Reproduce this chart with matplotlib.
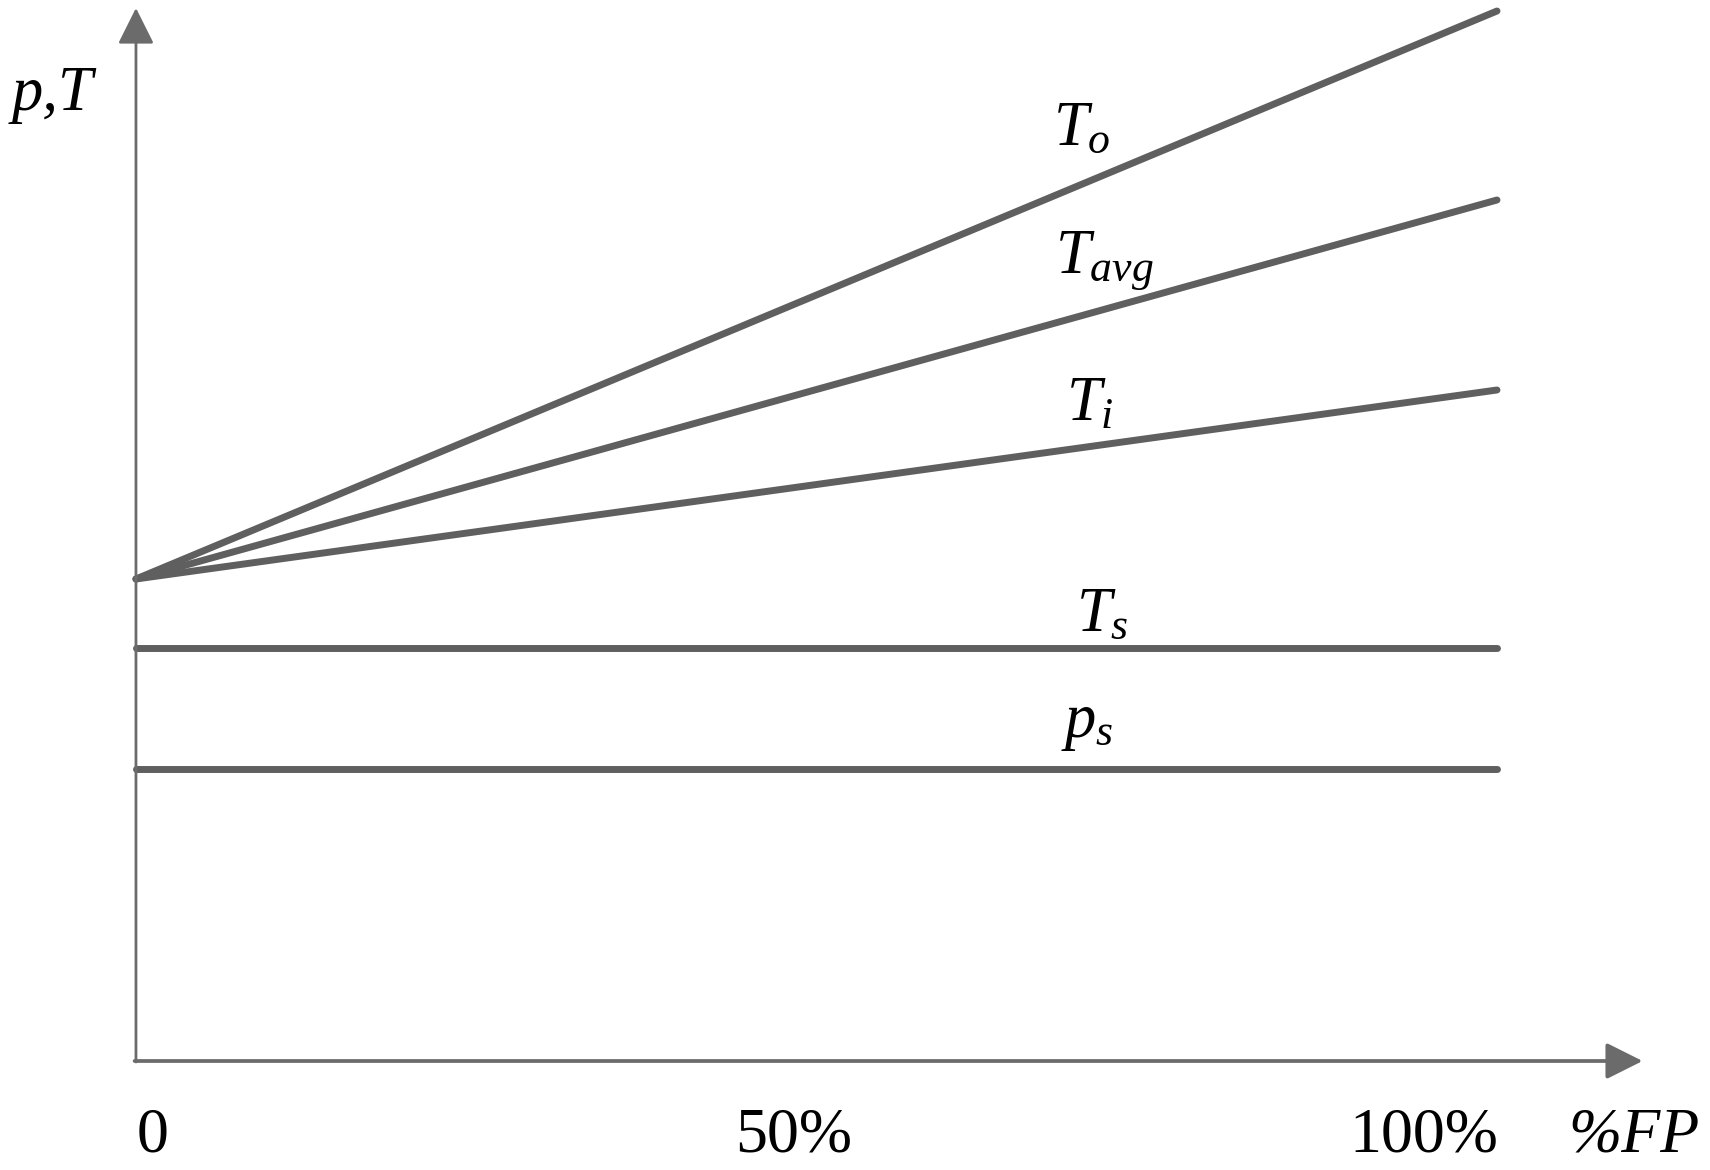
import matplotlib
matplotlib.use("Agg")
import matplotlib.pyplot as plt

plt.rcParams['font.family'] = ['Liberation Serif', 'DejaVu Serif']
plt.rcParams['mathtext.fontset'] = 'custom'
plt.rcParams['mathtext.rm'] = 'Liberation Serif'
plt.rcParams['mathtext.it'] = 'Liberation Serif:italic'

# %FP load, start and end of every curve
load = [0, 100]

# p,T readings (arbitrary units, axis origin = 0)
T_o = [48.2, 105.0]
T_avg = [48.2, 86.1]
T_i = [48.2, 67.1]
T_s = [41.3, 41.3]
p_s = [29.2, 29.2]

series = [T_o, T_avg, T_i, T_s, p_s]
labels = [r'$T_o$', r'$T_{avg}$', r'$T_i$', r'$T_s$', r'$p_s$']
label_pos = [(67.4, 91.6), (67.5, 78.9), (68.3, 64.1), (69.1, 43.0), (68.0, 32.4)]

ticks = [1.25, 48.3, 94.6]
tick_labels = ['0', '50%', '100%']

line_col = '#5f5f5f'
axis_col = '#6b6b6b'

fig = plt.figure(figsize=(17.1, 11.7), dpi=100)
ax = fig.add_axes([0, 0, 1, 1])
ax.set_xlim(-9.99, 115.65)
ax.set_ylim(-10.9, 106.1)
ax.axis('off')

# axes drawn as arrows
ax.annotate('', xy=(110.7, 0), xytext=(-0.1, 0),
            arrowprops=dict(arrowstyle='-|>', mutation_scale=56, lw=2.7,
                            color=axis_col, shrinkA=0, shrinkB=0))
ax.annotate('', xy=(0, 105.3), xytext=(0, -0.1),
            arrowprops=dict(arrowstyle='-|>', mutation_scale=56, lw=2.0,
                            color=axis_col, shrinkA=0, shrinkB=0))

for s in series:
    ax.plot(load, s, color=line_col, lw=5.0, solid_capstyle='round')

for lab, (x, y) in zip(labels, label_pos):
    ax.text(x, y, lab, fontsize=45, ha='left', va='baseline')

ax.text(-9.1, 95.1, 'p,T', fontsize=45, fontstyle='italic', ha='left', va='baseline')

for x, t in zip(ticks, tick_labels):
    ax.text(x, -9.0, t, fontsize=46, ha='center', va='baseline')
ax.text(110.1, -9.0, '%FP', fontsize=46, fontstyle='italic', ha='center', va='baseline')

fig.savefig('out.png', dpi=100)
